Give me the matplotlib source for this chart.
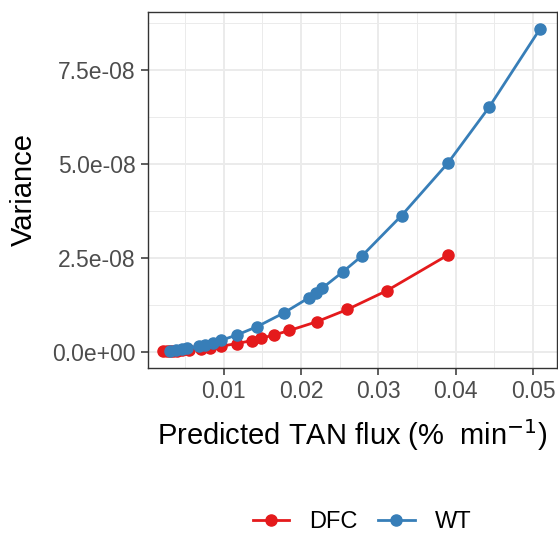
import numpy as np
import matplotlib
matplotlib.use("Agg")
import matplotlib.pyplot as plt
from matplotlib.ticker import FuncFormatter, MultipleLocator
from matplotlib.lines import Line2D

plt.rcParams['font.family'] = ['Liberation Sans', 'DejaVu Sans']

# WT series (flux in % min^-1, variance)
wt_flux = [0.0030, 0.0038, 0.0046, 0.0052, 0.0068, 0.0076, 0.0086, 0.0097, 0.0117, 0.0143,
           0.0178, 0.0210, 0.0219, 0.0227, 0.0254, 0.0279, 0.0330, 0.0390, 0.0443, 0.0509]
wt_var = [0.03e-8, 0.05e-8, 0.07e-8, 0.09e-8, 0.15e-8, 0.19e-8, 0.24e-8, 0.31e-8, 0.45e-8, 0.67e-8,
          1.04e-8, 1.44e-8, 1.57e-8, 1.69e-8, 2.13e-8, 2.56e-8, 3.63e-8, 5.03e-8, 6.51e-8, 8.60e-8]

# DFC series
dfc_flux = [0.0022, 0.0026, 0.0030, 0.0034, 0.0040, 0.0046, 0.0055, 0.0070, 0.0082, 0.0096,
            0.0117, 0.0136, 0.0148, 0.0165, 0.0185, 0.0220, 0.0260, 0.0311, 0.0390]
dfc_var = [0.01e-8, 0.01e-8, 0.02e-8, 0.02e-8, 0.03e-8, 0.04e-8, 0.05e-8, 0.08e-8, 0.11e-8, 0.15e-8,
           0.22e-8, 0.30e-8, 0.36e-8, 0.45e-8, 0.57e-8, 0.80e-8, 1.13e-8, 1.63e-8, 2.58e-8]

groups = ['DFC', 'WT']
colors = {'DFC': '#E41A1C', 'WT': '#377EB8'}

W, H = 558, 533
fig = plt.figure(figsize=(W / 100, H / 100), dpi=100)
ax = fig.add_axes([148 / W, 1 - 368 / H, (557 - 148) / W, (368 - 12) / H])

series = {'DFC': (dfc_flux, dfc_var), 'WT': (wt_flux, wt_var)}
for g in groups:
    x, y = series[g]
    ax.plot(x, y, color=colors[g], lw=2.0, marker='o', ms=8, mec=colors[g], zorder=3)

ax.set_xlim(0.0002, 0.0531)
ax.set_ylim(-0.43e-8, 9.05e-8)
ax.xaxis.set_major_locator(MultipleLocator(0.01))
ax.xaxis.set_minor_locator(MultipleLocator(0.005))
ax.yaxis.set_major_locator(MultipleLocator(2.5e-8))
ax.yaxis.set_minor_locator(MultipleLocator(1.25e-8))
ax.xaxis.set_major_formatter(FuncFormatter(lambda v, p: f"{v:.2f}"))
ax.yaxis.set_major_formatter(FuncFormatter(lambda v, p: f"{v:.1e}"))
ax.yaxis.get_offset_text().set_visible(False)

ax.grid(which='major', color='#EBEBEB', lw=1.4, zorder=0)
ax.grid(which='minor', color='#EBEBEB', lw=0.7, zorder=0)
ax.set_axisbelow(True)
for s in ax.spines.values():
    s.set_color('#333333')
    s.set_linewidth(1.0)
ax.tick_params(which='major', length=5, width=1.1, color='#333333',
               labelsize=16.5, labelcolor='#4D4D4D', pad=4)
ax.tick_params(which='minor', length=0)

ax.set_xlabel(r'Predicted TAN flux (%  min$^{-1}$)', fontsize=21, labelpad=10)
ax.set_ylabel('Variance', fontsize=21, labelpad=10)

handles = [Line2D([], [], color=colors[g], lw=2.0, marker='o', ms=8) for g in groups]
fig.legend(handles, groups, loc='center', bbox_to_anchor=(362 / W, 1 - 522 / H), ncol=2,
           frameon=False, fontsize=17, handlelength=1.55, columnspacing=0.85, handletextpad=0.85)

fig.savefig('out.png', dpi=100)
